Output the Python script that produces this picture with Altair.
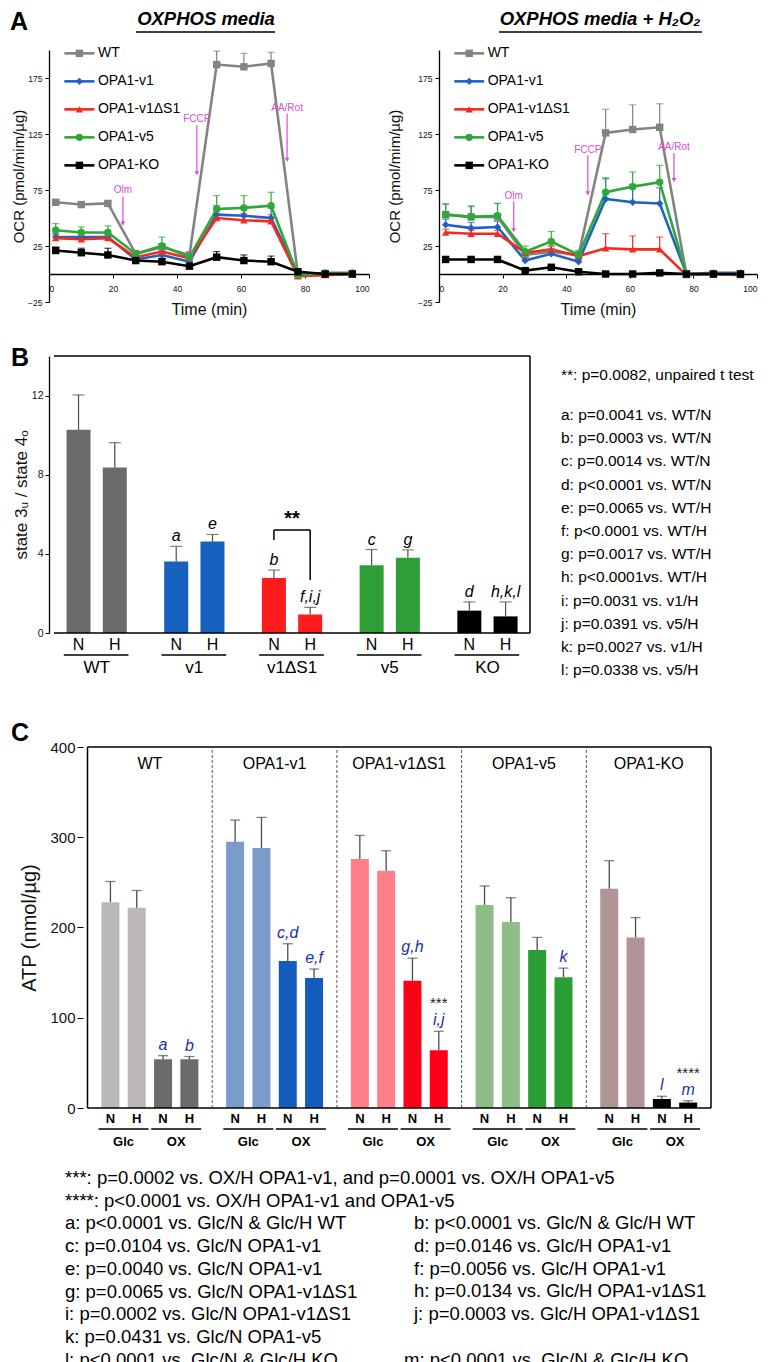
import altair as alt
import pandas as pd

FONT = "Liberation Sans"
PINK = "#da4bd6"
ERR = "#4d4d4d"

# ================= Panel A: OCR time courses =================
series = ["WT", "OPA1-v1", "OPA1-v1ΔS1", "OPA1-v5", "OPA1-KO"]
series_colors = ["#838383", "#1f62c4", "#f42a1f", "#2fa83a", "#000000"]
series_shapes = ["square", "diamond", "triangle-up", "circle", "square"]
time_min = [2.1, 10.1, 18.4, 27.1, 35.3, 43.9, 52.4, 60.9, 69.4, 77.8, 86.3, 94.8]

# OXPHOS media (mean, SD)
ocr_n_wt = [64, 62, 63, 18, 24, 17, 187, 185, 188, -1, 0, 0]
ocr_n_v1 = [33, 33, 33, 13, 17, 11, 53, 52, 50, 0, 0, 0]
ocr_n_ds1 = [32, 31, 32, 15, 20, 14, 50, 48, 47, -2, -1, 0]
ocr_n_v5 = [39, 37, 37, 18, 25, 15, 58, 59, 61, -1, 1, 1]
ocr_n_ko = [21, 19, 17, 12, 11, 7, 15, 12, 11, 2, 0, 0]
sd_n_wt = [2, 2, 2, 2, 3, 2, 12, 12, 10, 1, 1, 1]
sd_n_v1 = [3, 3, 3, 2, 3, 2, 8, 8, 9, 1, 1, 1]
sd_n_ds1 = [3, 3, 3, 2, 3, 2, 6, 6, 6, 1, 1, 1]
sd_n_v5 = [6, 5, 6, 3, 8, 3, 12, 11, 12, 1, 1, 1]
sd_n_ko = [3, 4, 6, 2, 3, 2, 5, 5, 5, 1, 1, 1]

# OXPHOS media + H2O2 (mean, SD)
ocr_h_wt = [53, 51, 51, 17, 20, 17, 126, 129, 131, 0, 0, 0]
ocr_h_v1 = [44, 41, 42, 12, 18, 11, 67, 64, 63, 0, 1, 1]
ocr_h_ds1 = [37, 36, 36, 19, 22, 16, 23, 22, 22, -1, 0, -1]
ocr_h_v5 = [53, 51, 52, 20, 29, 17, 73, 78, 82, 0, 0, 0]
ocr_h_ko = [13, 13, 13, 3, 6, 2, 0, 0, 1, 0, 0, 0]
sd_h_wt = [10, 10, 12, 3, 5, 3, 21, 22, 21, 1, 1, 1]
sd_h_v1 = [5, 5, 5, 3, 4, 2, 18, 16, 14, 1, 1, 1]
sd_h_ds1 = [3, 3, 3, 2, 3, 2, 13, 12, 11, 1, 1, 1]
sd_h_v5 = [9, 9, 11, 5, 9, 4, 13, 13, 15, 1, 1, 1]
sd_h_ko = [1, 1, 1, 1, 1, 1, 1, 1, 1, 1, 1, 1]

# drug-injection annotations
inj_labels = ["Olm", "FCCP", "AA/Rot"]
inj_time_n = [23.1, 46.2, 74.4]
inj_text_n = [75, 138, 148]
inj_top_n = [69, 133, 143]
inj_tip_n = [45, 90, 102]
inj_time_h = [23.5, 46.8, 73.9]
inj_text_h = [70, 111, 113]
inj_top_h = [65, 106, 108]
inj_tip_h = [39, 72, 84]

# ================= Panel B: state 3u / state 4o =================
b_groups = ["WT", "v1", "v1ΔS1", "v5", "KO"]
b_colors = ["#6b6b6b", "#1660be", "#ff1c1c", "#2e9e37", "#000000"]
b_conds = ["N", "H"]
ratio_n = [10.27, 3.62, 2.78, 3.42, 1.13]
ratio_h = [8.37, 4.62, 0.93, 3.80, 0.84]
ratio_n_top = [12.03, 4.38, 3.18, 4.22, 1.57]
ratio_h_top = [9.62, 4.98, 1.30, 4.20, 1.57]
letters_n = ["", "a", "b", "c", "d"]
letters_h = ["", "e", "f,i,j", "g", "h,k,l"]
b_notes_top = "**: p=0.0082, unpaired t test"
b_notes = [
    "a: p=0.0041 vs. WT/N", "b: p=0.0003 vs. WT/N", "c: p=0.0014 vs. WT/N",
    "d: p<0.0001 vs. WT/N", "e: p=0.0065 vs. WT/H", "f: p<0.0001 vs. WT/H",
    "g: p=0.0017 vs. WT/H", "h: p<0.0001vs. WT/H", "i: p=0.0031 vs. v1/H",
    "j: p=0.0391 vs. v5/H", "k: p=0.0027 vs. v1/H", "l: p=0.0338 vs. v5/H",
]

# ================= Panel C: ATP =================
c_groups = ["WT", "OPA1-v1", "OPA1-v1ΔS1", "OPA1-v5", "OPA1-KO"]
c_conds = ["Glc/N", "Glc/H", "OX/N", "OX/H"]
c_glc_colors = ["#bcb8b8", "#7b9bcb", "#fd7f89", "#8fbd87", "#b09597"]
c_ox_colors = ["#6b6b6b", "#135bbd", "#ff0019", "#2b9f36", "#000000"]
atp_glc_n = [228, 295, 276, 225, 243]
atp_glc_h = [222, 288, 263, 206, 189]
atp_ox_n = [54, 163, 141, 175, 10]
atp_ox_h = [54, 144, 64, 145, 6]
atp_glc_n_top = [251, 319, 302, 246, 274]
atp_glc_h_top = [241, 322, 285, 233, 211]
atp_ox_n_top = [58, 182, 166, 189, 13]
atp_ox_h_top = [57, 154, 85, 155, 8]
atp_letters_ox_n = ["a", "c,d", "g,h", "", "l"]
atp_letters_ox_h = ["b", "e,f", "i,j", "k", "m"]
atp_stars_ox_h = ["", "", "***", "", "****"]
c_notes_left = [
    "***: p=0.0002 vs. OX/H OPA1-v1, and p=0.0001 vs. OX/H OPA1-v5",
    "****: p<0.0001 vs. OX/H OPA1-v1 and OPA1-v5",
    "a: p<0.0001 vs. Glc/N & Glc/H WT",
    "c: p=0.0104 vs. Glc/N OPA1-v1",
    "e: p=0.0040 vs. Glc/N OPA1-v1",
    "g: p=0.0065 vs. Glc/N OPA1-v1ΔS1",
    "i: p=0.0002 vs. Glc/N OPA1-v1ΔS1",
    "k: p=0.0431 vs. Glc/N OPA1-v5",
    "l: p<0.0001 vs. Glc/N & Glc/H KO",
]
c_notes_right = [
    "b: p<0.0001 vs. Glc/N & Glc/H WT",
    "d: p=0.0146 vs. Glc/H OPA1-v1",
    "f: p=0.0056 vs. Glc/H OPA1-v1",
    "h: p=0.0134 vs. Glc/H OPA1-v1ΔS1",
    "j: p=0.0003 vs. Glc/H OPA1-v1ΔS1",
]
c_note_m = "m: p<0.0001 vs. Glc/N & Glc/H KO"

EDGE = -40   # left edge (px, relative to each panel origin) shared by all rows


def blank():
    return alt.Chart(pd.DataFrame({"k": [0]}))


def label(txt, x, y, **kw):
    return blank().mark_text(**kw).encode(x=alt.value(x), y=alt.value(y), text=alt.value(txt))


def edge_anchor(y0, y1):
    # white (invisible) vertical rule pinning a row's left/top/bottom extent
    return blank().mark_rule(color="white", strokeWidth=1).encode(
        x=alt.value(EDGE), y=alt.value(y0), y2=alt.value(y1))


# ---------------- Panel A builder ----------------
def ocr_frame(means, sds):
    rows = []
    for name, ms, ss in zip(series, means, sds):
        for t, m, s in zip(time_min, ms, ss):
            rows.append({"series": name, "t": t, "ocr": m, "hi": m + s})
    return pd.DataFrame(rows)


def ocr_panel(df, arrows, title, title_x, ul, ytitle_pad, width, extra=()):
    xs = alt.Scale(domain=[0, 100], nice=False, zero=False)
    ys = alt.Scale(domain=[-25, 200], nice=False, zero=False)
    X = alt.X("t:Q", scale=xs, axis=alt.Axis(
        values=[0, 20, 40, 60, 80, 100], offset=-28, title="Time (min)",
        titleFontSize=16, titleFontWeight="normal", titlePadding=9,
        labelFontSize=8.5, tickSize=4, labelPadding=6))
    Y = alt.Y("ocr:Q", scale=ys, axis=alt.Axis(
        values=list(range(-25, 201, 25)), title="OCR (pmol/mim/µg)",
        titleFontSize=15, titleFontWeight="normal", titlePadding=ytitle_pad,
        labelFontSize=8.5, tickSize=4, labelPadding=3))
    C = alt.Color("series:N", scale=alt.Scale(domain=series, range=series_colors), legend=None)
    S = alt.Shape("series:N", scale=alt.Scale(domain=series, range=series_shapes), legend=None)
    base = alt.Chart(df)
    err = base.mark_rule(strokeWidth=1.2).encode(x=X, y=Y, y2="hi:Q", color=C)
    cap = base.mark_tick(orient="horizontal", size=7, thickness=1.2).encode(x="t:Q", y="hi:Q", color=C)
    line = base.mark_line(strokeWidth=2.6).encode(x="t:Q", y="ocr:Q", color=C)
    pts = base.mark_point(filled=True, size=55, opacity=1).encode(x="t:Q", y="ocr:Q", color=C, shape=S)

    n = len(series)
    leg = pd.DataFrame({"series": series, "ly": [197 - 25 * i for i in range(n)],
                        "lx0": [4.8] * n, "lx1": [14.2] * n, "lxm": [9.5] * n, "lxt": [15.3] * n})
    lb = alt.Chart(leg)
    leg_line = lb.mark_rule(strokeWidth=2.6).encode(x="lx0:Q", x2="lx1:Q", y="ly:Q", color=C)
    leg_pt = lb.mark_point(filled=True, size=55, opacity=1).encode(x="lxm:Q", y="ly:Q", color=C, shape=S)
    leg_txt = lb.mark_text(align="left", baseline="middle", fontSize=14).encode(
        x="lxt:Q", y="ly:Q", text="series:N")

    ab = alt.Chart(arrows)
    arr_line = ab.mark_rule(color=PINK, strokeWidth=1.2).encode(x="ax:Q", y="ytop:Q", y2="ytip:Q")
    arr_head = ab.mark_point(shape="triangle-down", filled=True, size=22, color=PINK, opacity=1).encode(
        x="ax:Q", y="ytip:Q")
    arr_txt = ab.mark_text(color=PINK, fontSize=10, baseline="middle").encode(x="ax:Q", y="ytext:Q", text="lab:N")

    ttl = label(title, title_x, -31, fontSize=18.5, fontWeight="bold", fontStyle="italic")
    und = blank().mark_rule(strokeWidth=1.6, color="black").encode(
        x=alt.value(ul[0]), x2=alt.value(ul[1]), y=alt.value(-18))
    layers = [err, cap, line, pts, leg_line, leg_pt, leg_txt, arr_line, arr_head, arr_txt, ttl, und] + list(extra)
    return alt.layer(*layers).properties(width=width, height=252)


df_n = ocr_frame([ocr_n_wt, ocr_n_v1, ocr_n_ds1, ocr_n_v5, ocr_n_ko],
                 [sd_n_wt, sd_n_v1, sd_n_ds1, sd_n_v5, sd_n_ko])
df_h = ocr_frame([ocr_h_wt, ocr_h_v1, ocr_h_ds1, ocr_h_v5, ocr_h_ko],
                 [sd_h_wt, sd_h_v1, sd_h_ds1, sd_h_v5, sd_h_ko])
arr_n = pd.DataFrame({"lab": inj_labels, "ax": inj_time_n, "ytext": inj_text_n, "ytop": inj_top_n, "ytip": inj_tip_n})
arr_h = pd.DataFrame({"lab": inj_labels, "ax": inj_time_h, "ytext": inj_text_h, "ytop": inj_top_h, "ytip": inj_tip_h})

panel_a_left = ocr_panel(df_n, arr_n, "OXPHOS media", 157, (87, 226), 1, 320,
                         extra=[label("A", -30, -28, fontSize=25, fontWeight="bold"), edge_anchor(-41, 280)])
panel_a_right = ocr_panel(df_h, arr_h, "OXPHOS media + H₂O₂", 161, (60, 263), 15, 318)

# ---------------- Panel B ----------------
B_SLOT = [0.251, 0.622]
B_UL = (0.10, 0.762)
B_XMAX = 4.872
b_rows = []
for g, grp in enumerate(b_groups):
    for c, (cond, vals, tops, lets) in enumerate(zip(b_conds, [ratio_n, ratio_h], [ratio_n_top, ratio_h_top],
                                                    [letters_n, letters_h])):
        b_rows.append({"grp": grp, "cond": cond, "xpos": g + B_SLOT[c], "val": vals[g],
                       "top": tops[g], "letter": lets[g]})
df_b = pd.DataFrame(b_rows)
df_bg = pd.DataFrame({"grp": b_groups,
                      "u0": [g + B_UL[0] for g in range(5)],
                      "u1": [g + B_UL[1] for g in range(5)],
                      "gc": [g + (B_SLOT[0] + B_SLOT[1]) / 2 for g in range(5)]})

bxs = alt.Scale(domain=[0, B_XMAX], nice=False, zero=False)
bys = alt.Scale(domain=[0, 14], nice=False)
bb = alt.Chart(df_b)
b_bars = bb.mark_bar(size=24).encode(
    x=alt.X("xpos:Q", scale=bxs, axis=None),
    y=alt.Y("val:Q", scale=bys, axis=alt.Axis(
        values=list(range(0, 15, 2)), title="state 3ᵤ / state 4ₒ", titleFontSize=17,
        titleFontWeight="normal", titlePadding=1, labelFontSize=10.5, tickSize=4, labelPadding=2)),
    color=alt.Color("grp:N", scale=alt.Scale(domain=b_groups, range=b_colors), legend=None))
b_err = bb.mark_rule(color=ERR, strokeWidth=1.2).encode(x="xpos:Q", y="val:Q", y2="top:Q")
b_cap = bb.mark_tick(orient="horizontal", size=12, thickness=1.2, color=ERR).encode(x="xpos:Q", y="top:Q")
b_let = bb.mark_text(fontStyle="italic", fontSize=16, baseline="bottom", dy=-2).encode(
    x="xpos:Q", y="top:Q", text="letter:N")
b_cond = bb.mark_text(fontSize=16, baseline="middle").encode(x="xpos:Q", y=alt.value(289), text="cond:N")
bgc = alt.Chart(df_bg)
b_ul = bgc.mark_rule(strokeWidth=1.5, color="black").encode(x="u0:Q", x2="u1:Q", y=alt.value(299))
b_gl = bgc.mark_text(fontSize=17, baseline="middle").encode(x="gc:Q", y=alt.value(312), text="grp:N")

# frame (top, right, bottom)
df_bframe = pd.DataFrame({"x": [0, B_XMAX, 0], "x2": [B_XMAX, B_XMAX, B_XMAX],
                          "y": [14, 0, 0], "y2": [14, 14, 0]})
b_frame = alt.Chart(df_bframe).mark_rule(strokeWidth=1.5, color="black").encode(
    x="x:Q", x2="x2:Q", y="y:Q", y2="y2:Q")

# significance bracket between v1ΔS1 N and H
br_n, br_h = 2 + B_SLOT[0], 2 + B_SLOT[1]
df_br = pd.DataFrame({"x": [br_n, br_n, br_h], "x2": [br_h, br_n, br_h],
                      "y": [5.2, 4.7, 5.2], "y2": [5.2, 5.2, 2.68]})
b_br = alt.Chart(df_br).mark_rule(strokeWidth=1.5, color="black").encode(
    x="x:Q", x2="x2:Q", y="y:Q", y2="y2:Q")
b_star = alt.Chart(pd.DataFrame({"x": [(br_n + br_h) / 2], "y": [5.75], "s": ["**"]})).mark_text(
    fontSize=20, fontWeight="bold", baseline="middle").encode(x="x:Q", y="y:Q", text="s:N")

b_note1 = label(b_notes_top, 512, 19, fontSize=15.5, align="left", baseline="middle")
b_note2 = label("\n".join(b_notes), 512, 52, fontSize=15.5, align="left", baseline="top",
                lineBreak="\n", lineHeight=23.2)
b_letter = label("B", -29, 2, fontSize=25, fontWeight="bold")

panel_b = alt.layer(b_bars, b_err, b_cap, b_let, b_cond, b_ul, b_gl, b_frame, b_br, b_star,
                    b_note1, b_note2, b_letter, edge_anchor(-14, 335)).properties(width=486, height=277)

# ---------------- Panel C ----------------
C_SLOT = [0.184, 0.395, 0.606, 0.817]
C_SHIFT = 34                      # px between the panel origin and the C y-axis
C_UNIT = 633 / 5                  # px per group
C_XMIN = -C_SHIFT / C_UNIT
C_TOP = 44                        # extra head-room (px) above the 400 line
C_PLOT_H = 361
C_YMAX = 400 * (C_PLOT_H + C_TOP) / C_PLOT_H
c_rows = []
c_color_keys, c_color_range = [], []
for g, grp in enumerate(c_groups):
    vals = [atp_glc_n[g], atp_glc_h[g], atp_ox_n[g], atp_ox_h[g]]
    tops = [atp_glc_n_top[g], atp_glc_h_top[g], atp_ox_n_top[g], atp_ox_h_top[g]]
    lets = ["", "", atp_letters_ox_n[g], atp_letters_ox_h[g]]
    stars = ["", "", "", atp_stars_ox_h[g]]
    for k, cond in enumerate(c_conds):
        media = cond.split("/")[0]
        key = grp + "|" + media
        if key not in c_color_keys:
            c_color_keys.append(key)
            c_color_range.append(c_glc_colors[g] if media == "Glc" else c_ox_colors[g])
        c_rows.append({"grp": grp, "cond": cond, "nh": cond.split("/")[1], "key": key,
                       "xpos": g + C_SLOT[k], "val": vals[k], "top": tops[k],
                       "letter": lets[k], "stars": stars[k]})
df_c = pd.DataFrame(c_rows)
pair_rows = []
for g, grp in enumerate(c_groups):
    for p, media in enumerate(["Glc", "OX"]):
        a, b = C_SLOT[2 * p], C_SLOT[2 * p + 1]
        pair_rows.append({"media": media, "u0": g + a - 0.095, "u1": g + b + 0.095, "mc": g + (a + b) / 2})
df_pair = pd.DataFrame(pair_rows)
df_cg = pd.DataFrame({"grp": c_groups, "gc": [g + 0.5 for g in range(5)]})
df_sep = pd.DataFrame({"x": [1, 2, 3, 4], "y": [0] * 4, "y2": [400] * 4})
df_cframe = pd.DataFrame({"x": [0, 5, 0, 0], "x2": [5, 5, 5, 0], "y": [400, 0, 0, 0], "y2": [400, 400, 0, 400]})

cxs = alt.Scale(domain=[C_XMIN, 5], nice=False, zero=False)
cys = alt.Scale(domain=[0, C_YMAX], nice=False)
cb = alt.Chart(df_c)
c_bars = cb.mark_bar(size=18).encode(
    x=alt.X("xpos:Q", scale=cxs, axis=None),
    y=alt.Y("val:Q", scale=cys, axis=alt.Axis(
        values=[0, 100, 200, 300, 400], title="ATP (nmol/µg)", titleFontSize=20, offset=-C_SHIFT,
        domain=False, titleFontWeight="normal", titlePadding=10, labelFontSize=15, tickSize=6,
        labelPadding=2, titleY=C_TOP + C_PLOT_H / 2)),
    color=alt.Color("key:N", scale=alt.Scale(domain=c_color_keys, range=c_color_range), legend=None))
c_err = cb.mark_rule(color=ERR, strokeWidth=1.3).encode(x="xpos:Q", y="val:Q", y2="top:Q")
c_cap = cb.mark_tick(orient="horizontal", size=10, thickness=1.3, color=ERR).encode(x="xpos:Q", y="top:Q")
c_let = cb.mark_text(fontStyle="italic", fontSize=16, color="#1d2fae", baseline="bottom", dy=-3).encode(
    x="xpos:Q", y="top:Q", text="letter:N")
c_star = cb.mark_text(fontSize=15, color="#222", baseline="bottom", dy=-20).encode(
    x="xpos:Q", y="top:Q", text="stars:N")
c_nh = cb.mark_text(fontSize=13, fontWeight="bold", baseline="middle").encode(
    x="xpos:Q", y=alt.value(C_TOP + 372), text="nh:N")
cp = alt.Chart(df_pair)
c_ul = cp.mark_rule(strokeWidth=1.5, color="black").encode(x="u0:Q", x2="u1:Q", y=alt.value(C_TOP + 382))
c_media = cp.mark_text(fontSize=13, fontWeight="bold", baseline="middle").encode(
    x="mc:Q", y=alt.value(C_TOP + 395), text="media:N")
c_sep = alt.Chart(df_sep).mark_rule(strokeDash=[3, 2], color="#555", strokeWidth=1).encode(
    x="x:Q", y="y:Q", y2="y2:Q")
c_frame = alt.Chart(df_cframe).mark_rule(strokeWidth=1.5, color="black").encode(
    x="x:Q", x2="x2:Q", y="y:Q", y2="y2:Q")
c_title = alt.Chart(df_cg).mark_text(fontSize=16, baseline="middle").encode(
    x="gc:Q", y=alt.value(C_TOP + 17), text="grp:N")
c_letter = label("C", -29, C_TOP - 14, fontSize=25, fontWeight="bold")
NOTE_FS, NOTE_LH, NOTE_Y = 18.5, 22.7, C_TOP + 422
c_note_l = label("\n".join(c_notes_left), C_SHIFT - 18, NOTE_Y, fontSize=NOTE_FS, align="left",
                 baseline="top", lineBreak="\n", lineHeight=NOTE_LH)
c_note_r = label("\n".join(c_notes_right), C_SHIFT + 331, NOTE_Y + 2 * NOTE_LH, fontSize=NOTE_FS, align="left",
                 baseline="top", lineBreak="\n", lineHeight=NOTE_LH)
c_note_m2 = label(c_note_m, C_SHIFT + 321, NOTE_Y + 8 * NOTE_LH, fontSize=NOTE_FS, align="left", baseline="top")

# the bar layer (which carries the axis definition) goes first
panel_c = alt.layer(c_bars, c_sep, c_err, c_cap, c_frame, c_let, c_star, c_nh, c_ul, c_media, c_title,
                    c_letter, c_note_l, c_note_r, c_note_m2, edge_anchor(16, 20)).properties(
    width=633 + C_SHIFT, height=C_PLOT_H + C_TOP)

row_a = alt.hconcat(panel_a_left, panel_a_right, spacing=70, bounds="flush")
chart = alt.vconcat(row_a, panel_b, panel_c, spacing=10).resolve_scale(
    color="independent", shape="independent"
).properties(padding=0).configure(font=FONT).configure_view(stroke="transparent").configure_axis(
    grid=False, domainColor="black", tickColor="black", labelColor="#111", titleColor="#111",
    labelFont=FONT, titleFont=FONT, domainWidth=1.3)

chart.save("out.html", embed_options={"renderer": "svg", "actions": False})
